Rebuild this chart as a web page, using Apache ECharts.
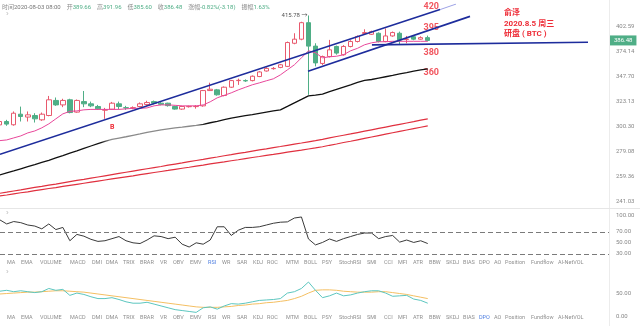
<!DOCTYPE html>
<html>
<head>
<meta charset="utf-8">
<script src="https://cdn.jsdelivr.net/npm/echarts@6/dist/echarts.min.js"></script>
<style>
  html, body { margin: 0; padding: 0; background: #fff; }
  #chart { width: 640px; height: 326px; }
</style>
</head>
<body>
<div id="chart"></div>
<script>
// 4h candles
const times = [
  '2020-07-24 04:00','2020-07-24 08:00','2020-07-24 12:00','2020-07-24 16:00','2020-07-24 20:00',
  '2020-07-25 00:00','2020-07-25 04:00','2020-07-25 08:00','2020-07-25 12:00','2020-07-25 16:00','2020-07-25 20:00',
  '2020-07-26 00:00','2020-07-26 04:00','2020-07-26 08:00','2020-07-26 12:00','2020-07-26 16:00','2020-07-26 20:00',
  '2020-07-27 00:00','2020-07-27 04:00','2020-07-27 08:00','2020-07-27 12:00','2020-07-27 16:00','2020-07-27 20:00',
  '2020-07-28 00:00','2020-07-28 04:00','2020-07-28 08:00','2020-07-28 12:00','2020-07-28 16:00','2020-07-28 20:00',
  '2020-07-29 00:00','2020-07-29 04:00','2020-07-29 08:00','2020-07-29 12:00','2020-07-29 16:00','2020-07-29 20:00',
  '2020-07-30 00:00','2020-07-30 04:00','2020-07-30 08:00','2020-07-30 12:00','2020-07-30 16:00','2020-07-30 20:00',
  '2020-07-31 00:00','2020-07-31 04:00','2020-07-31 08:00','2020-07-31 12:00','2020-07-31 16:00','2020-07-31 20:00',
  '2020-08-01 00:00','2020-08-01 04:00','2020-08-01 08:00','2020-08-01 12:00','2020-08-01 16:00','2020-08-01 20:00',
  '2020-08-02 00:00','2020-08-02 04:00','2020-08-02 08:00','2020-08-02 12:00','2020-08-02 16:00','2020-08-02 20:00',
  '2020-08-03 00:00','2020-08-03 04:00','2020-08-03 08:00'
];

const open = [301.8,304.8,301.9,311.4,308.8,310.2,306.3,310.2,324.2,320.0,
  324.8,313.3,323.1,321.0,318.5,315.1,316.0,321.0,317.4,317.1,
  318.5,320.3,323.1,321.6,321.6,318.5,316.1,318.3,318.4,319.1,
  333.7,334.4,328.9,337.0,343.6,343.6,343.6,347.7,353.4,355.8,
  357.1,358.2,383.3,387.9,407.1,380.1,361.3,368.7,379.7,370.6,
  379.7,385.3,394.4,393.5,394.7,385.3,391.6,394.7,387.6,390.7,
  387.9,389.66];
const close = [304.8,302.5,312.3,309.3,310.8,307.2,311.4,324.8,320.0,324.2,
  312.9,324.2,321.0,319.1,316.3,315.4,321.6,318.5,317.2,317.4,
  321.0,322.2,321.6,320.5,319.3,316.1,318.5,318.6,318.6,333.7,
  335.0,329.6,337.0,343.6,343.9,343.3,348.0,352.4,356.1,356.1,
  359.9,384.1,387.9,407.1,380.1,361.9,368.7,376.0,372.4,379.7,
  385.3,391.0,395.5,396.5,385.3,391.6,395.5,387.1,388.0,387.9,
  389.66,386.48];
const low = [296.36,301.0,301.1,304.8,304.8,303.9,305.4,309.5,319.1,317.9,
  312.2,312.7,317.9,317.9,315.4,307.2,315.4,316.1,315.4,315.9,
  317.8,319.1,320.5,319.6,318.4,315.6,315.4,317.5,316.5,318.3,
  333.3,328.8,328.1,336.3,339.3,342.3,342.8,347.1,352.8,354.8,
  356.3,357.5,382.2,386.7,329.6,358.2,359.7,367.7,370.7,369.7,
  378.7,384.2,392.7,392.7,384.2,384.5,390.7,381.5,383.3,386.7,
  387.2,385.60];
const high = [305.6,306.3,313.9,318.4,313.9,312.3,312.9,328.5,327.0,325.8,
  325.8,325.1,333.3,323.1,320.0,317.2,322.8,323.1,319.1,318.6,
  322.3,323.9,324.1,322.6,322.0,319.1,319.1,319.2,319.8,334.3,
  341.5,335.3,337.8,344.3,345.6,344.8,348.8,353.3,357.3,357.5,
  360.8,385.2,394.7,408.2,415.78,383.3,369.7,387.1,380.7,381.2,
  386.7,392.2,399.3,397.7,395.7,400.3,396.7,396.6,391.6,391.7,
  391.2,391.96];

// moving averages on the price panel
const maFast = [288.2,288.8,290.5,292.2,294.8,296.5,299.2,302.7,307.2,311.7,
  314.0,314.4,315.4,315.8,315.8,315.8,315.8,315.8,316.3,316.8,
  316.8,317.2,319.1,320.0,320.0,319.6,319.1,319.1,319.1,320.0,
  322.9,326.7,329.1,331.5,334.4,336.9,339.4,341.3,343.4,345.4,
  349.4,354.6,359.9,367.3,374.9,372.8,367.3,368.4,369.0,370.6,
  374.9,377.7,381.6,383.8,385.0,385.0,385.5,385.5,385.5,385.5,
  385.5,385.5];
const maMid = [260.6,262.2,263.7,265.4,267.1,268.7,270.4,272.1,274.0,275.9,
  277.9,279.7,281.7,283.7,285.7,287.6,289.2,290.4,291.5,292.7,
  293.9,295.2,296.4,297.5,298.3,299.1,299.8,300.6,301.4,302.3,
  303.7,305.0,306.4,307.8,309.0,310.1,311.1,312.2,313.3,314.4,
  315.4,318.6,321.9,325.2,328.6,329.2,330.2,332.6,334.9,337.2,
  339.4,341.7,343.8,344.7,346.1,347.5,348.9,350.4,351.8,353.3,
  354.6,355.7];
const maSlowA = [247.0,247.8,248.7,249.5,250.4,251.3,252.1,253.0,253.8,254.7,
  255.6,256.5,257.3,258.2,259.1,260.0,260.9,261.8,262.7,263.6,
  264.5,265.4,266.3,267.2,268.2,269.1,270.0,271.0,271.9,272.8,
  273.8,274.7,275.7,276.6,277.6,278.5,279.5,280.5,281.4,282.4,
  283.3,284.3,285.3,286.2,287.2,288.2,289.3,290.5,291.7,292.8,
  293.9,295.1,296.3,297.5,298.7,299.9,301.1,302.3,303.5,304.7,
  306.0,307.2];
const maSlowB = [245.1,245.8,246.6,247.4,248.1,248.9,249.7,250.5,251.2,252.0,
  252.8,253.6,254.4,255.2,256.0,256.8,257.6,258.4,259.2,260.0,
  260.9,261.7,262.5,263.3,264.1,265.0,265.8,266.6,267.5,268.3,
  269.2,270.0,270.8,271.7,272.5,273.4,274.3,275.1,276.0,276.8,
  277.7,278.6,279.5,280.3,281.2,282.1,283.1,284.3,285.4,286.6,
  287.7,288.9,290.1,291.3,292.5,293.7,294.9,296.1,297.3,298.5,
  299.7,300.9];

// RSI panel
const rsi = [92.2,84.6,89.0,87.0,82.7,80.8,75.7,84.6,74.4,78.3,
  54.1,65.6,62.4,56.7,52.9,54.1,57.9,61.7,54.1,50.3,
  49.0,55.4,63.0,61.7,57.9,60.5,47.8,42.7,50.3,47.8,
  55.4,79.5,79.5,63.7,73.2,78.3,78.3,79.5,82.7,85.9,
  87.8,88.4,95.4,97.3,57.3,46.5,51.0,57.3,52.9,57.9,
  61.7,65.6,68.1,68.1,57.9,61.7,63.7,51.6,55.4,51.0,
  54.1,49.0];
const rsiBands = [70, 30];

// second oscillator panel
const oscFast = [56,58,55,57,55,53,55,62,58,60,
  47,52,49,44,40,40,42,38,33,30,
  30,32,28,24,20,16,14,12,10,20,
  22,17,24,29,28,30,33,36,37,38,
  40,52,55,62,76,58,42,46,52,46,
  48,52,55,57,57,52,45,46,47,39,
  36,30];
const oscSlow = [50,51,52,53,54,54,55,56,57,57,
  56,55,54,52,50,48,46,44,42,40,
  38,36,34,32,30,28,26,24,22,21,
  21,21,22,23,25,26,28,29,31,32,
  34,36,40,45,52,58,59,59,58,56,
  55,54,54,54,55,55,53,51,49,46,
  43,40];

// axis ticks
const priceTicks = [241.03, 259.36, 279.08, 300.30, 323.13, 347.70, 374.14, 402.59];
const rsiTicks = [30, 50, 70, 100];
const oscTicks = [0, 50];

// hand-drawn trend lines: [bar index, price]
const channelTop = [[0.04, 276.9], [62.75, 423.0]];
const channelTopExt = [[62.75, 423.0], [65.03, 429.9]];
const channelBottom = [[43.94, 353.2], [67.02, 414.7]];
const supportLine = [[53.05, 381.5], [83.84, 384.5]];

// price-level notes
const levelNotes = [
  { at: [61.5, 420], text: '420', dy: -5 },
  { at: [61.5, 395], text: '395', dy: -5 },
  { at: [61.5, 380], text: '380', dy: 7 },
  { at: [61.5, 360], text: '360', dy: 8 }
];

// indicator tab strip
const tabs = ['MA','EMA','VOLUME','MACD','DMI','DMA','TRIX','BRAR','VR','OBV','EMV','RSI','WR','SAR','KDJ','ROC','MTM','BOLL','PSY','StochRSI','SMI','CCI','MFI','ATR','BBW','SKDJ','BIAS','DPO','AO','Position','Fundflow','AI-NetVOL'];
const tabLeft = [7,21,40,70,92,106,123,140,160,173,190,208,222,237,253,267,286,304,322,339,367,384,398,413,429,446,463,479,494,505,531,558];

const UP = '#e8596d', DOWN = '#4fae86', GREY_TXT = '#8c8c8c';
const FONT = 'Roboto, "Noto Sans CJK SC", sans-serif';

const idx = open.map((_, i) => i);
const pairs = arr => arr.map((v, i) => [i, v]);

const last = open.length - 1;
const prevClose = close[last - 1];
const chg = close[last] - prevClose;
const fmt = v => v.toFixed(2);

const header = '{k|时间}{t|' + times[last] + '}  {k|开}{v|' + fmt(open[last]) + '}  {k|高}{v|' + fmt(high[last]) +
  '}  {k|低}{v|' + fmt(low[last]) + '}  {k|收}{v|' + fmt(close[last]) + '}  {k|涨幅}{v|' +
  (chg / prevClose * 100).toFixed(2) + '%(' + chg.toFixed(2) + ')}  {k|振幅}{v|' +
  ((high[last] - low[last]) / prevClose * 100).toFixed(2) + '%}';

function tabRow(active, top) {
  return tabs.map((t, i) => ({
    type: 'text', silent: true, x: tabLeft[i], y: top,
    style: { text: t, fontSize: 5.5, fontFamily: FONT, fill: t === active ? '#4f7fe0' : '#8f8f8f', verticalAlign: 'middle' }
  }));
}

const X_MIN = 0.043, X_MAX = 86.83;
const grids = [
  { left: 0, right: 31, top: 4, height: 204 },
  { left: 0, right: 31, top: 210, height: 48 },
  { left: 0, right: 31, top: 268, height: 50 }
];
const xAxes = grids.map((g, gi) => ({
  type: 'value', gridIndex: gi, min: X_MIN, max: X_MAX, show: false
}));
const axisLabelBase = { fontSize: 6, color: '#888', margin: 7, fontFamily: FONT, formatter: v => Number(v).toFixed(2) };

const chart = echarts.init(document.getElementById('chart'), null, { renderer: 'canvas' });
chart.setOption({
  animation: false,
  backgroundColor: '#fff',
  grid: grids,
  xAxis: xAxes,
  yAxis: [
    { type: 'log', logBase: 10, gridIndex: 0, position: 'right', min: 236.6, max: 430.0,
      axisLine: { show: false }, axisTick: { show: false }, splitLine: { show: false },
      axisLabel: Object.assign({ customValues: priceTicks }, axisLabelBase) },
    { type: 'value', gridIndex: 1, position: 'right', min: 22.7, max: 110,
      axisLine: { show: false }, axisTick: { show: false }, splitLine: { show: false },
      axisLabel: Object.assign({ customValues: rsiTicks }, axisLabelBase) },
    { type: 'value', gridIndex: 2, position: 'right', min: -2.2, max: 106.5,
      axisLine: { show: false }, axisTick: { show: false }, splitLine: { show: false },
      axisLabel: Object.assign({ customValues: oscTicks }, axisLabelBase) }
  ],
  series: [
    { type: 'line', name: 'MA slow A', data: pairs(maSlowA), symbol: 'none', silent: true,
      lineStyle: { color: '#e0303f', width: 1.2 } },
    { type: 'line', name: 'MA slow B', data: pairs(maSlowB), symbol: 'none', silent: true,
      lineStyle: { color: '#e0303f', width: 1.2 } },
    { type: 'line', name: 'MA mid', data: pairs(maMid), symbol: 'none', silent: true,
      lineStyle: { width: 1.3, color: new echarts.graphic.LinearGradient(0, 0, 1, 0, [
        { offset: 0, color: '#111' }, { offset: 0.24, color: '#111' },
        { offset: 0.26, color: '#8a8a8a' }, { offset: 0.46, color: '#8a8a8a' },
        { offset: 0.48, color: '#111' }, { offset: 1, color: '#111' }]) } },
    { type: 'line', name: 'MA fast', data: pairs(maFast), symbol: 'none', silent: true,
      lineStyle: { color: '#e8479a', width: 1 } },
    { type: 'candlestick', name: 'K', barWidth: 5,
      data: idx.map(i => [i, open[i], close[i], low[i], high[i]]),
      encode: { x: 0, y: [1, 2, 3, 4] },
      itemStyle: { color: '#fff', color0: DOWN, borderColor: UP, borderColor0: DOWN, borderWidth: 1 },
      markPoint: {
        symbol: 'circle', symbolSize: 0, silent: true,
        data: [
          { coord: [44, high[44]], label: { show: true, position: 'left', distance: 1, formatter: fmt(high[44]) + ' →',
            fontSize: 6, color: '#555', fontFamily: FONT } },
          { coord: [0, low[0]], label: { show: true, position: 'right', distance: 1, formatter: '↳ ' + fmt(low[0]),
            fontSize: 6, color: '#555', fontFamily: FONT } }
        ]
      },
      markLine: {
        symbol: 'none', silent: true,
        lineStyle: { color: 'rgba(0,0,0,0)' },
        data: [{ yAxis: close[last] }],
        label: { show: true, position: 'end', distance: 1, formatter: fmt(close[last]),
          color: '#fff', backgroundColor: '#4fae86', padding: [2, 4], fontSize: 6, fontFamily: FONT }
      } },
    { type: 'line', data: channelTop, symbol: 'none', silent: true, lineStyle: { color: '#1d2c9c', width: 1.6 } },
    { type: 'line', data: channelTopExt, symbol: 'none', silent: true, lineStyle: { color: '#9ea3e6', width: 1 } },
    { type: 'line', data: channelBottom, symbol: 'none', silent: true, lineStyle: { color: '#1d2c9c', width: 1.6 } },
    { type: 'line', data: supportLine, symbol: 'none', silent: true, lineStyle: { color: '#1d2c9c', width: 1.6 } },
    { type: 'scatter', symbolSize: 0, silent: true,
      data: levelNotes.map(n => ({ value: n.at, label: { offset: [0, n.dy], formatter: n.text } })),
      label: { show: true, position: 'inside', color: '#ee2b36', fontWeight: 'bold', fontSize: 9, fontFamily: FONT } },

    { type: 'line', xAxisIndex: 1, yAxisIndex: 1, data: pairs(rsi), symbol: 'none', silent: true,
      lineStyle: { color: '#3a3a3a', width: 1 },
      markLine: { symbol: 'none', silent: true, label: { show: false },
        lineStyle: { color: '#7a7a7a', type: [5, 3], width: 1 },
        data: rsiBands.map(v => ({ yAxis: v })) } },

    { type: 'line', xAxisIndex: 2, yAxisIndex: 2, data: pairs(oscSlow), symbol: 'none', silent: true,
      lineStyle: { color: '#f4bf62', width: 1 } },
    { type: 'line', xAxisIndex: 2, yAxisIndex: 2, data: pairs(oscFast), symbol: 'none', silent: true,
      lineStyle: { color: '#5cc6bf', width: 1 } }
  ],
  graphic: [
    { type: 'line', silent: true, shape: { x1: 609.5, y1: 0, x2: 609.5, y2: 326 }, style: { stroke: '#ececec', lineWidth: 1 } },
    { type: 'line', silent: true, shape: { x1: 0, y1: 208.5, x2: 640, y2: 208.5 }, style: { stroke: '#e6e6e6', lineWidth: 1 } },
    { type: 'text', silent: true, left: 2, top: 1, style: { text: header, fontFamily: FONT, rich: {
      k: { fontSize: 6, fill: GREY_TXT, fontFamily: FONT },
      t: { fontSize: 6, fill: '#777', fontFamily: FONT },
      v: { fontSize: 6, fill: '#4fae86', fontFamily: FONT } } } },
    { type: 'text', silent: true, left: 6, top: 10, style: { text: '›', fontSize: 8, fill: '#bbb' } },
    { type: 'text', silent: true, left: 6, top: 209, style: { text: '›', fontSize: 8, fill: '#bbb' } },
    { type: 'text', silent: true, left: 6, top: 268, style: { text: '›', fontSize: 8, fill: '#bbb' } },
    ...tabRow('RSI', 263),
    ...tabRow('DPO', 318),
    { type: 'text', silent: true, left: 110, top: 124, style: { text: 'B', fontSize: 7, fontWeight: 'bold', fill: '#ee2b36', fontFamily: FONT } },
    { type: 'text', silent: true, left: 504, top: 8, style: {
      text: '俞泽\n2020.8.5 周三\n研盘 ( BTC )', fontSize: 8, lineHeight: 10.5, fontWeight: 'bold',
      fill: '#ee2b36', fontFamily: FONT } }
  ]
});
</script>
</body>
</html>
